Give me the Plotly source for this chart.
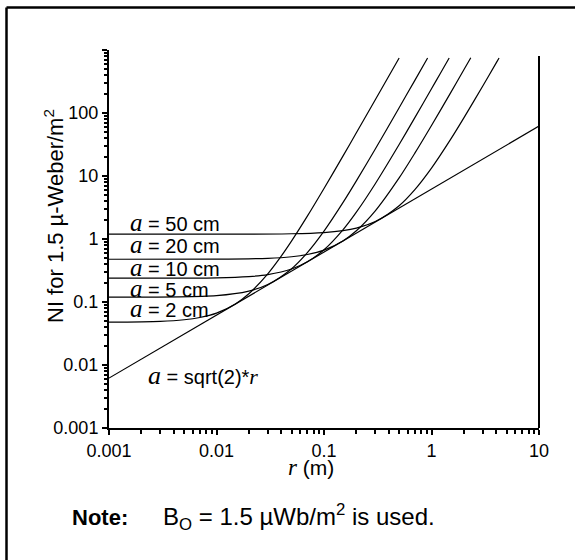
import plotly.graph_objects as go

# ---- data ----
r_a2 = [0.001, 0.003, 0.005, 0.007, 0.01, 0.015, 0.02, 0.03, 0.04, 0.05, 0.07, 0.1, 0.15, 0.2, 0.3, 0.4, 0.5]
ni_a2 = [0.0479, 0.0494, 0.0523, 0.0568, 0.0667, 0.0932, 0.135, 0.2797, 0.5337, 0.932, 2.302, 6.329, 20.68, 48.46, 162.2, 383.4, 747.7]

r_a5 = [0.001, 0.01, 0.02, 0.03, 0.05, 0.07, 0.1, 0.15, 0.2, 0.3, 0.5, 0.7, 0.92]
ni_a5 = [0.1194, 0.1266, 0.1491, 0.1893, 0.3376, 0.6078, 1.334, 3.774, 8.366, 26.86, 121.2, 330.0, 746.8]

r_a10 = [0.001, 0.01, 0.02, 0.03, 0.05, 0.07, 0.1, 0.15, 0.2, 0.3, 0.5, 0.7, 1.0, 1.2, 1.46]
ni_a10 = [0.2387, 0.2423, 0.2532, 0.2716, 0.3336, 0.4341, 0.6752, 1.399, 2.669, 7.548, 31.64, 84.39, 242.3, 416.8, 748.1]

r_a20 = [0.001, 0.01, 0.03, 0.05, 0.07, 0.1, 0.15, 0.2, 0.3, 0.5, 0.7, 1.0, 1.5, 2.0, 2.32]
ni_a20 = [0.4774, 0.4792, 0.4936, 0.5228, 0.5678, 0.6672, 0.9324, 1.350, 2.797, 9.319, 23.02, 63.29, 206.8, 484.6, 753.5]

r_a50 = [0.001, 0.01, 0.05, 0.1, 0.15, 0.2, 0.3, 0.5, 0.7, 1.0, 1.5, 2.0, 3.0, 4.0, 4.25]
ni_a50 = [1.1935, 1.1942, 1.2115, 1.2658, 1.3582, 1.4912, 1.893, 3.376, 6.078, 13.34, 37.74, 83.66, 268.6, 625.5, 748.3]

r_env = [0.001, 10]
ni_env = [0.0062, 62.0]

curve_labels = ["50 cm", "20 cm", "10 cm", "5 cm", "2 cm"]

x_tickvals = [0.001, 0.01, 0.1, 1, 10]
x_ticktext = ["0.001", "0.01", "0.1", "1", "10"]
y_tickvals = [0.001, 0.01, 0.1, 1, 10, 100, 1000]
y_ticktext = ["0.001", "0.01", "0.1", "1", "10", "100", ""]

# ---- figure ----
W, H = 575, 560
ML, MR, MT, MB = 109, 36, 50, 132
PW, PH = W - ML - MR, H - MT - MB


def px(xp):
    return (xp - ML) / PW


def py(yp):
    return (H - MB - yp) / PH


fig = go.Figure()
line = dict(color="black", width=1.2, shape="spline", smoothing=0.8)
for rr, nn in [(r_a2, ni_a2), (r_a5, ni_a5), (r_a10, ni_a10), (r_a20, ni_a20), (r_a50, ni_a50)]:
    fig.add_trace(go.Scatter(x=rr, y=nn, mode="lines", line=line, showlegend=False, hoverinfo="skip"))
fig.add_trace(go.Scatter(x=r_env, y=ni_env, mode="lines", line=dict(color="black", width=1.2),
                         showlegend=False, hoverinfo="skip"))

x_minor = [m * 10 ** e for e in range(-3, 1) for m in range(2, 10)]
y_minor = [m * 10 ** e for e in range(-3, 3) for m in range(2, 10)]

SANS = "Arial, Liberation Sans, sans-serif"
tickfont = dict(family=SANS, size=18, color="black")
MAJ, MIN, TW = 5, 3.5, 2
common_x = dict(type="log", range=[-3, 1], showgrid=False, zeroline=False,
                tickmode="array", tickvals=x_tickvals, ticklen=MAJ, tickwidth=TW, tickcolor="black")
common_y = dict(type="log", range=[-3, 3], showgrid=False, zeroline=False,
                tickmode="array", tickvals=y_tickvals, ticklen=MAJ, tickwidth=TW, tickcolor="black")


def minor(side, vals):
    return dict(tickmode="array", tickvals=vals, ticks=side, ticklen=MIN, tickwidth=TW, tickcolor="black")


fig.update_layout(
    width=W, height=H,
    margin=dict(l=ML, r=MR, t=MT, b=MB),
    paper_bgcolor="white", plot_bgcolor="white",
    font=dict(family=SANS, color="black"),
    xaxis=dict(**common_x, ticktext=x_ticktext, ticks="outside", showline=True, linewidth=2,
               linecolor="black", tickfont=tickfont, minor=minor("outside", x_minor)),
    yaxis=dict(**common_y, ticktext=y_ticktext, ticks="outside", showline=True, linewidth=2,
               linecolor="black", tickfont=tickfont, minor=minor("outside", y_minor)),
    xaxis2=dict(**common_x, overlaying="x", anchor="y", side="bottom", ticks="inside",
                showticklabels=False, showline=False, minor=minor("inside", x_minor)),
    yaxis2=dict(**common_y, overlaying="y", anchor="x", side="left", ticks="inside",
                showticklabels=False, showline=False, minor=minor("inside", y_minor)),
)

shapes = [
    # outer frame (top and left edges)
    dict(type="line", xref="paper", yref="paper", x0=px(6.5), x1=px(580), y0=py(7.5), y1=py(7.5),
         line=dict(color="black", width=2.5)),
    dict(type="line", xref="paper", yref="paper", x0=px(6.5), x1=px(6.5), y0=py(7.5), y1=py(570),
         line=dict(color="black", width=2.5)),
    # right frame line of the plot
    dict(type="line", xref="paper", yref="paper", x0=1, x1=1, y0=0, y1=py(56),
         line=dict(color="black", width=2)),
]
fig.update_layout(shapes=shapes)


def ital(ch, size):
    return ("<span style=\"font-family:'Liberation Serif','Times New Roman',serif;"
            "font-style:italic;font-size:%dpx\">%s</span>" % (size, ch))


label_y = [222, 245, 267, 288, 308]
ann = []
for lab, yp in zip(curve_labels, label_y):
    ann.append(dict(xref="paper", yref="paper", x=px(128), y=py(yp), xanchor="left", yanchor="middle",
                    text=ital("a", 25) + " = " + lab, showarrow=False,
                    font=dict(family=SANS, size=20, color="black")))
ann.append(dict(xref="paper", yref="paper", x=px(146), y=py(375), xanchor="left", yanchor="middle",
                text=ital("a", 26) + " = sqrt(2)*" + ital("r", 22),
                showarrow=False, font=dict(family=SANS, size=20, color="black")))
# axis titles
ann.append(dict(xref="paper", yref="paper", x=px(311), y=py(467), xanchor="center", yanchor="middle",
                text=ital("r", 23) + " (m)",
                showarrow=False, font=dict(family=SANS, size=21, color="black")))
ann.append(dict(xref="paper", yref="paper", x=px(54), y=py(216), xanchor="center", yanchor="middle",
                textangle=-90, text="NI for 1.5 µ-Weber/m<sup>2</sup>",
                showarrow=False, font=dict(family=SANS, size=22, color="black")))
# note
ann.append(dict(xref="paper", yref="paper", x=px(70), y=py(517), xanchor="left", yanchor="middle",
                text="<b>Note:</b>", showarrow=False, font=dict(family=SANS, size=22, color="black")))
ann.append(dict(xref="paper", yref="paper", x=px(161), y=py(517), xanchor="left", yanchor="middle",
                text="B<sub>O</sub> = 1.5 µWb/m<sup>2</sup> is used.", showarrow=False,
                font=dict(family=SANS, size=24, color="black")))
fig.update_layout(annotations=ann)

fig.write_html("out.html", config={"displayModeBar": False},
               post_script="document.body.style.margin='0px';")
